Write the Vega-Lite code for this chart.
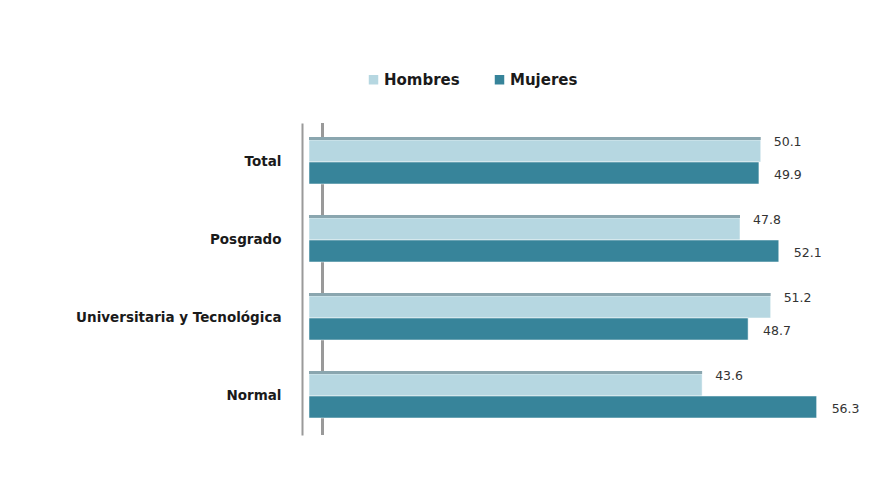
{
  "$schema": "https://vega.github.io/schema/vega-lite/v6.json",
  "width": 541,
  "height": 312,
  "autosize": "none",
  "padding": {"left": 309, "top": 123, "right": 33, "bottom": 47},
  "background": "white",
  "config": {
    "view": {"stroke": null},
    "font": "DejaVu Sans"
  },
  "data": {
    "values": [
      {"categoria": "Total", "sexo": "Hombres", "valor": 50.1},
      {"categoria": "Total", "sexo": "Mujeres", "valor": 49.9},
      {"categoria": "Posgrado", "sexo": "Hombres", "valor": 47.8},
      {"categoria": "Posgrado", "sexo": "Mujeres", "valor": 52.1},
      {"categoria": "Universitaria y Tecnológica", "sexo": "Hombres", "valor": 51.2},
      {"categoria": "Universitaria y Tecnológica", "sexo": "Mujeres", "valor": 48.7},
      {"categoria": "Normal", "sexo": "Hombres", "valor": 43.6},
      {"categoria": "Normal", "sexo": "Mujeres", "valor": 56.3}
    ]
  },
  "encoding": {
    "y": {
      "field": "categoria",
      "type": "nominal",
      "sort": ["Total", "Posgrado", "Universitaria y Tecnológica", "Normal"],
      "scale": {"paddingInner": 0.436, "paddingOuter": 0.218},
      "axis": {
        "title": null,
        "ticks": false,
        "domain": true,
        "domainColor": "#9a9a9a",
        "domainWidth": 2,
        "offset": 7,
        "labelPadding": 21,
        "labelLimit": 400,
        "labelFont": "DejaVu Sans",
        "labelFontWeight": "bold",
        "labelFontSize": 13.5,
        "labelColor": "#1a1a1a"
      }
    },
    "yOffset": {"field": "sexo", "type": "nominal", "sort": ["Hombres", "Mujeres"], "scale": {"paddingInner": 0, "paddingOuter": 0}},
    "x": {
      "field": "valor",
      "type": "quantitative",
      "scale": {"domain": [0, 60]},
      "axis": null
    }
  },
  "layer": [
    {
      "mark": {"type": "rule", "color": "#9a9a9a", "strokeWidth": 2},
      "encoding": {
        "x": {"datum": 1.5, "type": "quantitative"},
        "y": null,
        "yOffset": null
      }
    },
    {
      "mark": {"type": "bar", "stroke": "#ffffff", "strokeWidth": 0.5},
      "encoding": {
        "color": {
          "field": "sexo",
          "type": "nominal",
          "sort": ["Hombres", "Mujeres"],
          "scale": {"domain": ["Hombres", "Mujeres"], "range": ["#b6d7e1", "#37849a"]},
          "legend": {
            "title": null,
            "orient": "none",
            "direction": "horizontal",
            "legendX": 57,
            "legendY": -51,
            "symbolType": "square",
            "symbolSize": 90,
            "symbolStrokeWidth": 0,
            "labelFont": "DejaVu Sans",
            "labelFontWeight": "bold",
            "labelFontSize": 15,
            "labelColor": "#1a1a1a",
            "columnPadding": 32,
            "labelOffset": 3
          }
        }
      }
    },
    {
      "transform": [{"filter": "datum.sexo === 'Hombres'"}],
      "mark": {"type": "bar", "height": 3, "yOffset": -23.5, "color": "#8aa6af"},
      "encoding": {"yOffset": null}
    },
    {
      "transform": [{"filter": "datum.sexo === 'Hombres'"}],
      "mark": {"type": "text", "align": "left", "dx": 13, "dy": -9, "fontSize": 12.5, "color": "#333333", "font": "DejaVu Sans"},
      "encoding": {"text": {"field": "valor", "type": "quantitative", "format": ".1f"}}
    },
    {
      "transform": [{"filter": "datum.sexo === 'Mujeres'"}],
      "mark": {"type": "text", "align": "left", "dx": 15, "dy": 2, "fontSize": 12.5, "color": "#333333", "font": "DejaVu Sans"},
      "encoding": {"text": {"field": "valor", "type": "quantitative", "format": ".1f"}}
    }
  ]
}
